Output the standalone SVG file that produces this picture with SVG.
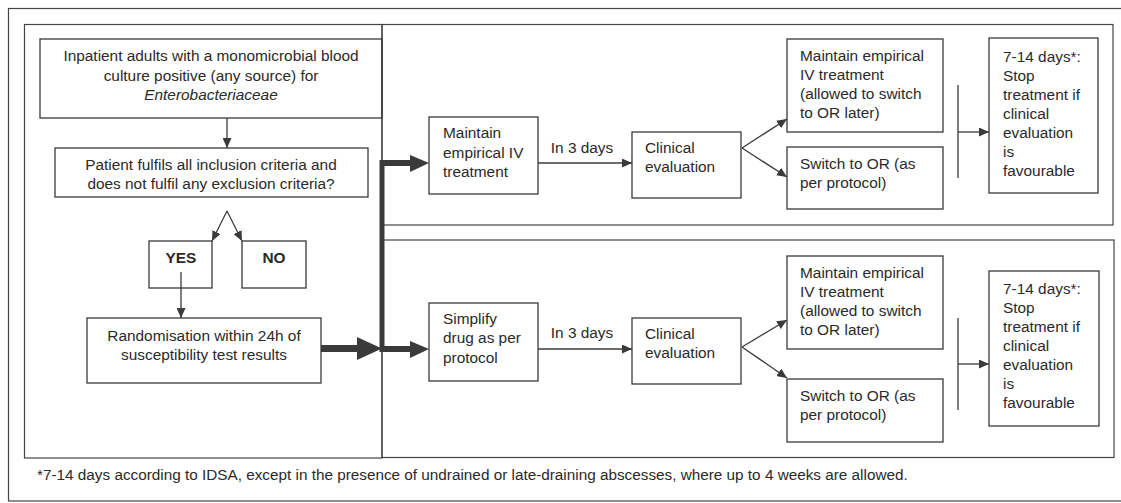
<svg xmlns="http://www.w3.org/2000/svg" width="1121" height="503" viewBox="0 0 1121 503">
<defs>
<style>
.box{fill:none;stroke:#3a3a3a;stroke-width:1.3}
.frame{fill:none;stroke:#444;stroke-width:1.2}
.ln{fill:none;stroke:#3a3a3a;stroke-width:1.3}
.thick{fill:none;stroke:#3a3a3a}
.head{fill:#3a3a3a}
text{font-family:"Liberation Sans",Arial,sans-serif;font-size:15.4px;fill:#2a2a2a}
.c{text-anchor:middle}
.b{font-weight:bold}
.fn{font-size:15.3px}
</style>
<marker id="ah" markerUnits="userSpaceOnUse" markerWidth="10" markerHeight="9" refX="10" refY="4.5" orient="auto">
<path d="M0,0 L10,4.5 L0,9 z" fill="#3a3a3a"/>
</marker>
</defs>
<rect width="1121" height="503" fill="#fff"/>
<g id="frames">
<rect class="frame" x="8.5" y="8.5" width="1120" height="492.5"/>
<rect class="frame" x="24.5" y="24.5" width="357.5" height="433.5"/>
<rect class="frame" x="382" y="24.5" width="731" height="200.5"/>
<rect class="frame" x="382" y="240" width="732" height="217.5"/>
</g>
<g id="n1"><rect class="box" x="40" y="39" width="342" height="79"/>
<text class="c" x="211" y="61">Inpatient adults with a monomicrobial blood</text>
<text class="c" x="211" y="81">culture positive (any source) for</text>
<text class="c" x="211" y="100" font-style="italic">Enterobacteriaceae</text></g>
<g id="n2"><rect class="box" x="55" y="148" width="313" height="49"/>
<text class="c" x="211" y="170">Patient fulfils all inclusion criteria and</text>
<text class="c" x="211" y="189">does not fulfil any exclusion criteria?</text></g>
<g id="yes"><rect class="box" x="149" y="241" width="63" height="47"/>
<text class="c b" x="181" y="263">YES</text></g>
<g id="no"><rect class="box" x="242" y="241" width="64" height="47"/>
<text class="c b" x="274" y="263">NO</text></g>
<g id="rand"><rect class="box" x="87" y="318" width="234" height="65"/>
<text class="c" x="204" y="341">Randomisation within 24h of</text>
<text class="c" x="204" y="360">susceptibility test results</text></g>
<g id="t1"><rect class="box" x="429" y="117" width="109" height="77"/>
<text x="443" y="138">Maintain</text><text x="443" y="158">empirical IV</text><text x="443" y="177">treatment</text></g>
<g id="t2"><rect class="box" x="632" y="132" width="109" height="66"/>
<text x="645" y="153">Clinical</text><text x="645" y="172">evaluation</text></g>
<g id="t3"><rect class="box" x="787" y="39" width="156" height="93"/>
<text x="800" y="61">Maintain empirical</text><text x="800" y="80">IV treatment</text><text x="800" y="99">(allowed to switch</text><text x="800" y="118">to OR later)</text></g>
<g id="t4"><rect class="box" x="787" y="147" width="156" height="62"/>
<text x="800" y="169">Switch to OR (as</text><text x="800" y="188">per protocol)</text></g>
<g id="t5"><rect class="box" x="989" y="38" width="109" height="155"/>
<text x="1003" y="62">7-14 days*:</text><text x="1003" y="81">Stop</text><text x="1003" y="100">treatment if</text><text x="1003" y="119">clinical</text><text x="1003" y="138">evaluation</text><text x="1003" y="157">is</text><text x="1003" y="176">favourable</text></g>
<g id="b1"><rect class="box" x="429" y="303" width="109" height="78"/>
<text x="443" y="324">Simplify</text><text x="443" y="343">drug as per</text><text x="443" y="363">protocol</text></g>
<g id="b2"><rect class="box" x="632" y="318" width="109" height="66"/>
<text x="645" y="339">Clinical</text><text x="645" y="358">evaluation</text></g>
<g id="b3"><rect class="box" x="787" y="256" width="156" height="93"/>
<text x="800" y="278">Maintain empirical</text><text x="800" y="297">IV treatment</text><text x="800" y="316">(allowed to switch</text><text x="800" y="335">to OR later)</text></g>
<g id="b4"><rect class="box" x="787" y="379" width="156" height="63"/>
<text x="800" y="401">Switch to OR (as</text><text x="800" y="420">per protocol)</text></g>
<g id="b5"><rect class="box" x="989" y="271" width="110" height="155"/>
<text x="1003" y="294">7-14 days*:</text><text x="1003" y="313">Stop</text><text x="1003" y="332">treatment if</text><text x="1003" y="351">clinical</text><text x="1003" y="370">evaluation</text><text x="1003" y="389">is</text><text x="1003" y="408">favourable</text></g>
<g id="connectors">
<line class="ln" x1="227" y1="118" x2="227" y2="148" marker-end="url(#ah)"/>
<line class="ln" x1="227" y1="211" x2="212" y2="241" marker-end="url(#ah)"/>
<line class="ln" x1="227" y1="211" x2="242" y2="241" marker-end="url(#ah)"/>
<line class="ln" x1="181" y1="272" x2="181" y2="318" marker-end="url(#ah)"/>
<line class="thick" x1="321" y1="348.5" x2="360" y2="348.5" stroke-width="7"/>
<polygon class="head" points="357,337 382,348.5 357,360"/>
<line class="thick" x1="382" y1="160" x2="382" y2="352" stroke-width="5"/>
<line class="thick" x1="380" y1="163" x2="412" y2="163" stroke-width="6"/>
<polygon class="head" points="410,155 429,163 410,172"/>
<line class="thick" x1="382" y1="349" x2="412" y2="349" stroke-width="6"/>
<polygon class="head" points="410,341 429,349 410,358"/>
<line class="ln" x1="538" y1="163" x2="632" y2="163" marker-end="url(#ah)"/>
<line class="ln" x1="742" y1="148" x2="787" y2="119" marker-end="url(#ah)"/>
<line class="ln" x1="742" y1="148" x2="787" y2="177" marker-end="url(#ah)"/>
<line class="ln" x1="958" y1="85" x2="958" y2="178"/>
<line class="ln" x1="958" y1="132" x2="989" y2="132" marker-end="url(#ah)"/>
<line class="ln" x1="538" y1="349" x2="632" y2="349" marker-end="url(#ah)"/>
<line class="ln" x1="742" y1="347" x2="787" y2="320" marker-end="url(#ah)"/>
<line class="ln" x1="742" y1="347" x2="787" y2="378" marker-end="url(#ah)"/>
<line class="ln" x1="958" y1="318" x2="958" y2="410"/>
<line class="ln" x1="958" y1="364" x2="989" y2="364" marker-end="url(#ah)"/>
<text class="c" x="582" y="153">In 3 days</text>
<text class="c" x="582" y="338">In 3 days</text>
</g>
<text class="fn" x="37" y="480">*7-14 days according to IDSA, except in the presence of undrained or late-draining abscesses, where up to 4 weeks are allowed.</text>
</svg>
